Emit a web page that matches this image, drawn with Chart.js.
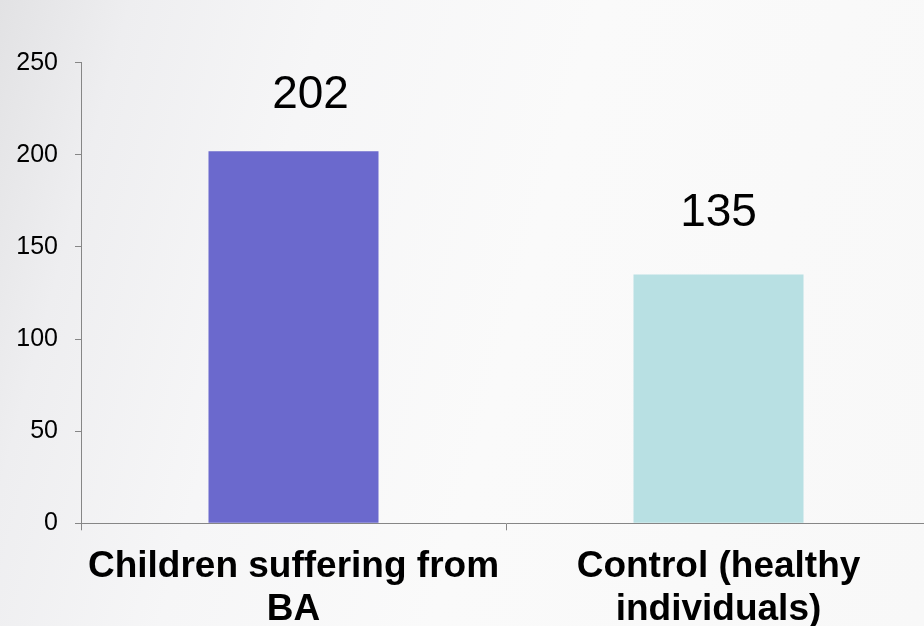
<!DOCTYPE html>
<html>
<head>
<meta charset="utf-8">
<script src="https://cdn.jsdelivr.net/npm/chart.js@4.4.1/dist/chart.umd.min.js"></script>
<style>
  html, body { margin: 0; padding: 0; width: 924px; height: 626px; overflow: hidden; }
  body {
    background: linear-gradient(105deg, #e2e2e4 0%, #eeeef0 12%, #f6f6f7 30%, #fafafa 55%, #f8f8f8 100%);
  }
  #wrap { position: absolute; left: 0; top: 0; width: 940px; height: 626px; }
</style>
</head>
<body>
<div id="wrap"><canvas id="c" width="940" height="626"></canvas></div>
<script>
const categories = [["Children suffering from", "BA"], ["Control (healthy", "individuals)"]];
const values = [202, 135];
const barColors = ["#6b69cd", "#b8e0e3"];
const yTicks = [0, 50, 100, 150, 200, 250];

const FONT = "'Liberation Sans', Arial, sans-serif";

const valueLabels = {
  id: 'valueLabels',
  afterDatasetsDraw(chart, args, opts) {
    const ctx = chart.ctx;
    const meta = chart.getDatasetMeta(0);
    ctx.save();
    ctx.font = "46px " + FONT;
    ctx.fillStyle = "#000";
    ctx.textAlign = "center";
    ctx.textBaseline = "middle";
    meta.data.forEach((bar, i) => {
      const v = chart.data.datasets[0].data[i];
      ctx.fillText(String(v), bar.x + opts.dx[i], bar.y - opts.dy[i]);
    });
    ctx.restore();
  }
};

new Chart(document.getElementById('c'), {
  type: 'bar',
  data: {
    labels: categories,
    datasets: [{
      data: values,
      backgroundColor: barColors,
      borderWidth: 0,
      barPercentage: 0.4,
      categoryPercentage: 1.0
    }]
  },
  options: {
    responsive: false,
    animation: false,
    devicePixelRatio: 1,
    layout: { padding: { top: 62.7, right: 9, bottom: 0, left: 0 } },
    plugins: {
      legend: { display: false },
      tooltip: { enabled: false },
      valueLabels: { dx: [17, 0], dy: [56, 61] }
    },
    scales: {
      x: {
        grid: {
          offset: true,
          drawOnChartArea: false,
          drawTicks: true,
          tickLength: 7,
          color: "#868686",
          lineWidth: 1
        },
        border: { display: true, color: "#868686", width: 1 },
        ticks: {
          color: "#000",
          font: { family: FONT, size: 37, weight: 'bold', lineHeight: 1.17 },
          padding: 15,
          maxRotation: 0,
          autoSkip: false
        },
        afterFit(scale) { scale.height = 102.7; }
      },
      y: {
        min: 0,
        max: 250,
        afterBuildTicks(scale) { scale.ticks = yTicks.map(v => ({ value: v })); },
        grid: {
          drawOnChartArea: false,
          drawTicks: true,
          tickLength: 6,
          color: "#868686",
          lineWidth: 1
        },
        border: { display: true, color: "#868686", width: 1 },
        ticks: {
          color: "#000",
          font: { family: FONT, size: 25 },
          padding: 17
        },
        afterFit(scale) { scale.width = 81; }
      }
    }
  },
  plugins: [valueLabels]
});
</script>
</body>
</html>
